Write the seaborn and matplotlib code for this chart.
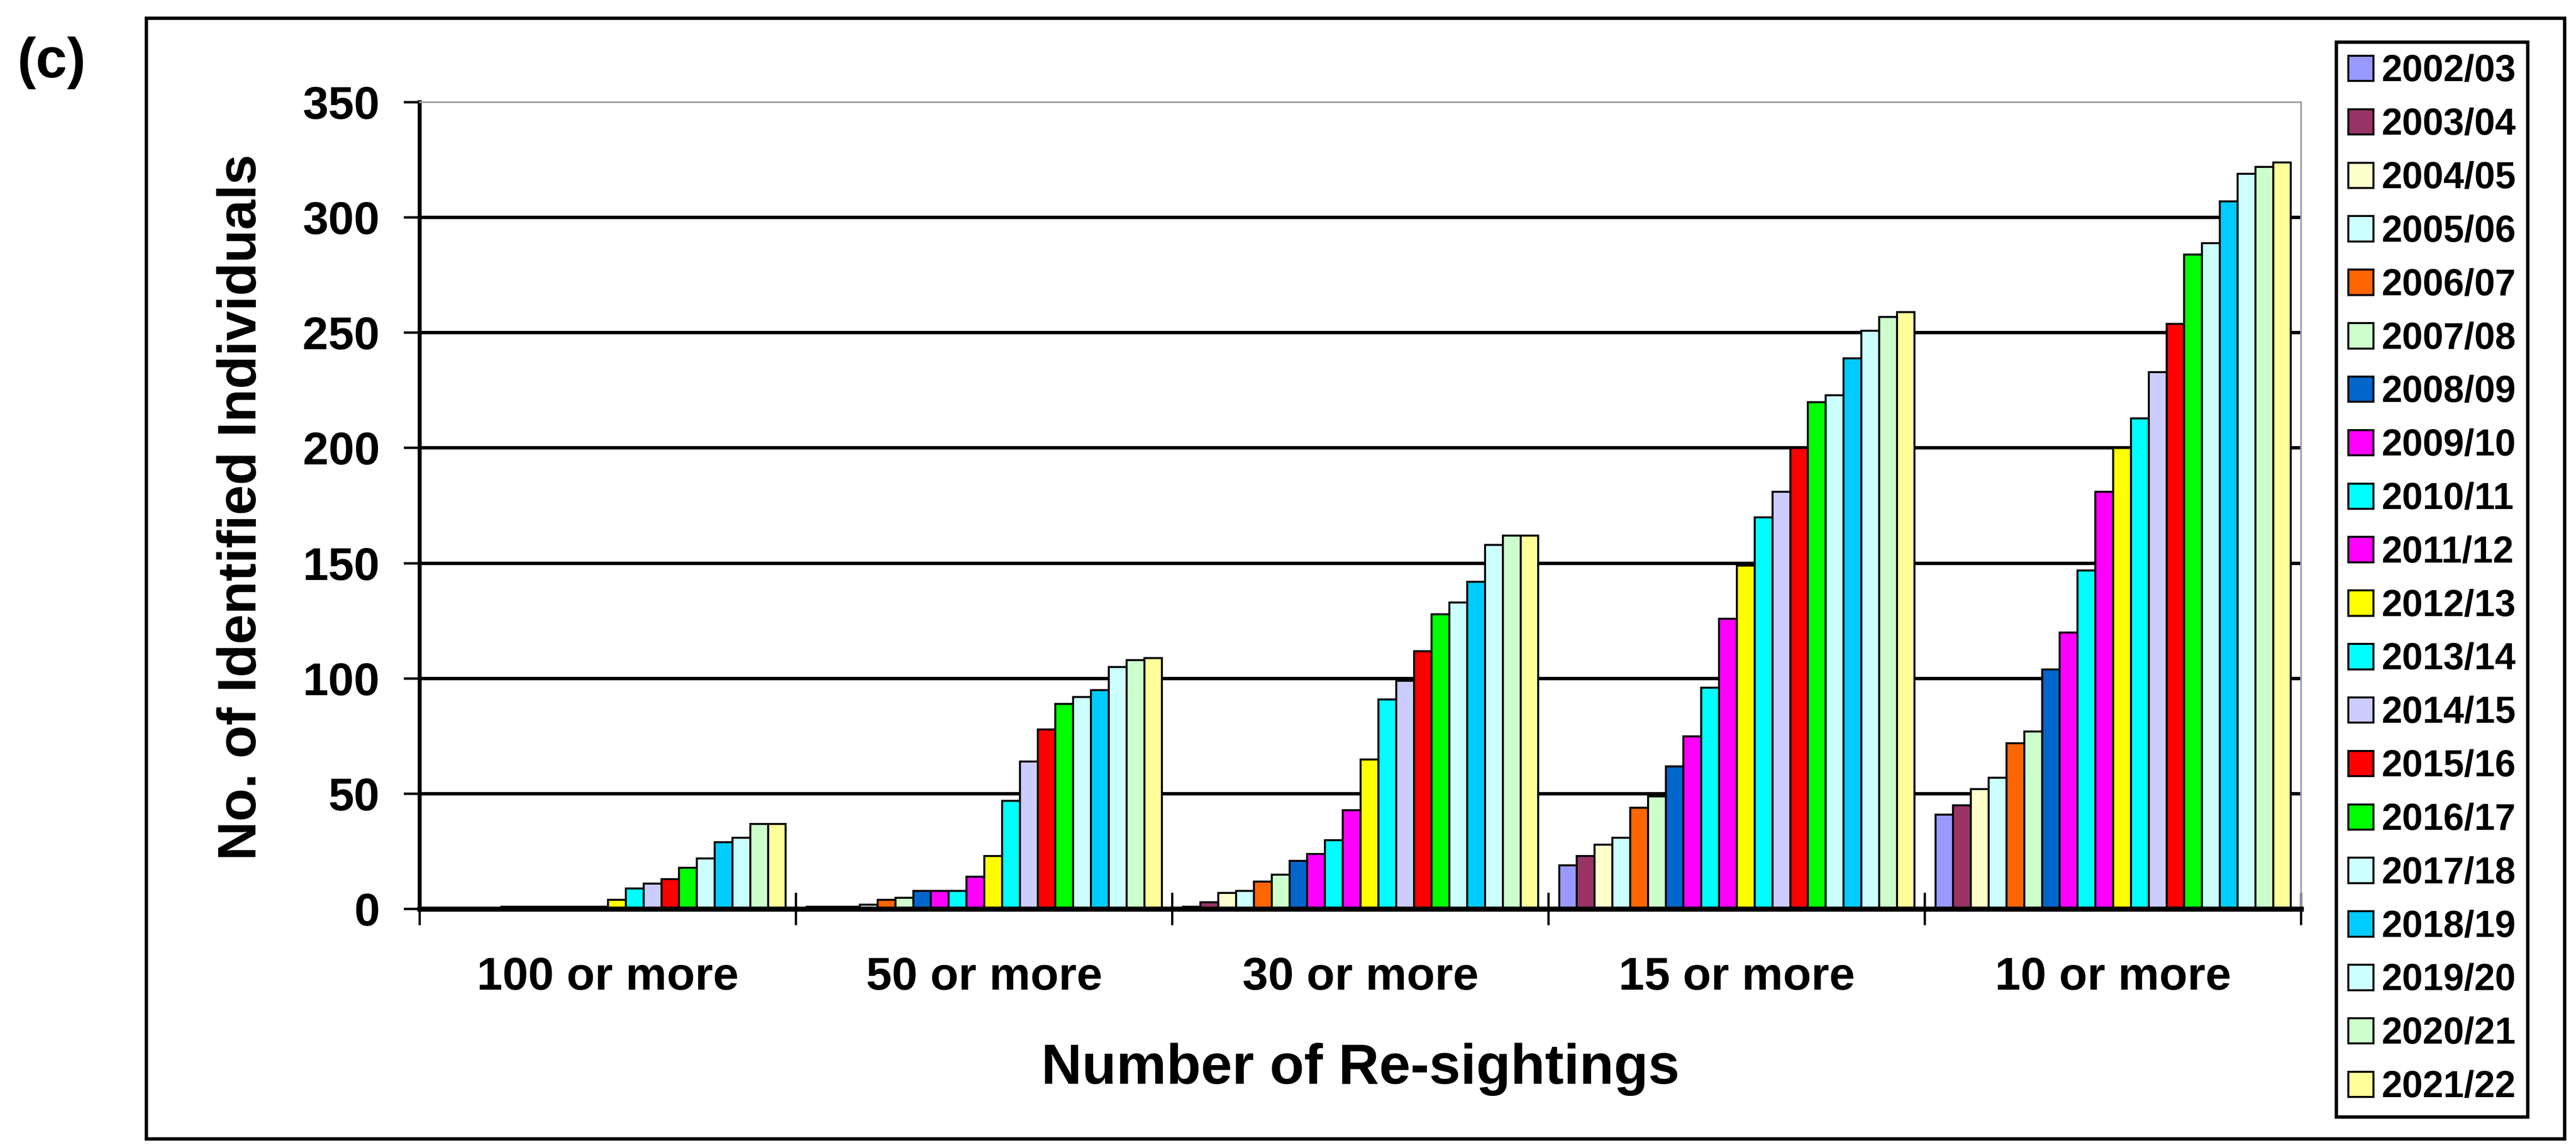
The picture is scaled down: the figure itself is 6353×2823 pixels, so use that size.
import numpy as np
import pandas as pd
import matplotlib
matplotlib.use("Agg")
import matplotlib.pyplot as plt
import seaborn as sns
from matplotlib.patches import Rectangle

# ---------------- data ----------------
categories = ["100 or more", "50 or more", "30 or more", "15 or more", "10 or more"]
seasons = ["2002/03", "2003/04", "2004/05", "2005/06", "2006/07", "2007/08",
           "2008/09", "2009/10", "2010/11", "2011/12", "2012/13", "2013/14",
           "2014/15", "2015/16", "2016/17", "2017/18", "2018/19", "2019/20",
           "2020/21", "2021/22"]
colors = ["#9999FF", "#993366", "#FFFFCC", "#CCFFFF", "#FF6600", "#CCFFCC",
          "#0066CC", "#FF00FF", "#00FFFF", "#FF00FF", "#FFFF00", "#00FFFF",
          "#CCCCFF", "#FF0000", "#00FF00", "#CCFFFF", "#00CCFF", "#CCFFFF",
          "#CCFFCC", "#FFFF99"]

v_100 = [0, 0, 0, 0, 1, 1, 1, 1, 1, 1, 4, 9, 11, 13, 18, 22, 29, 31, 37, 37]
v_50 = [1, 1, 1, 2, 4, 5, 8, 8, 8, 14, 23, 47, 64, 78, 89, 92, 95, 105, 108, 109]
v_30 = [1, 3, 7, 8, 12, 15, 21, 24, 30, 43, 65, 91, 99, 112, 128, 133, 142, 158, 162, 162]
v_15 = [19, 23, 28, 31, 44, 49, 62, 75, 96, 126, 149, 170, 181, 200, 220, 223, 239, 251, 257, 259]
v_10 = [41, 45, 52, 57, 72, 77, 104, 120, 147, 181, 200, 213, 233, 254, 284, 289, 307, 319, 322, 324]

y_ticks = [0, 50, 100, 150, 200, 250, 300, 350]

df = pd.DataFrame({
    "Number of Re-sightings": np.repeat(categories, len(seasons)),
    "Season": np.tile(seasons, len(categories)),
    "Count": np.concatenate([v_100, v_50, v_30, v_15, v_10]),
})

# ---------------- style ----------------
sns.set_theme(style="white")
plt.rcParams["font.family"] = ["Liberation Sans", "DejaVu Sans"]
plt.rcParams["font.weight"] = "bold"
plt.rcParams["axes.labelweight"] = "bold"
plt.rcParams["text.color"] = "black"

W, H = 6353, 2823
fig = plt.figure(figsize=(W / 100, H / 100), dpi=100)
fig.patch.set_facecolor("white")

ax_l, ax_r, ax_t, ax_b = 1035, 5675, 252, 2241
ax = fig.add_axes([ax_l / W, 1 - ax_b / H, (ax_r - ax_l) / W, (ax_b - ax_t) / H])

sns.barplot(data=df, x="Number of Re-sightings", y="Count", hue="Season",
            order=categories, hue_order=seasons, palette=colors,
            saturation=1, width=0.945, gap=0, edgecolor="black",
            linewidth=3.5, errorbar=None, ax=ax)

ax.set_xlim(-0.5, len(categories) - 0.5)
ax.set_ylim(0, 350)
ax.set_yticks(y_ticks)
ax.set_yticklabels([str(t) for t in y_ticks])

ax.yaxis.grid(True, color="black", linewidth=6)
ax.xaxis.grid(False)
ax.set_axisbelow(True)
ax.yaxis.get_gridlines()[-1].set_visible(False)
ax.yaxis.get_gridlines()[0].set_visible(False)

ax.set_xticks(np.arange(-0.5, len(categories), 1.0), minor=True)
ax.tick_params(axis="x", which="major", length=0, pad=84, labelsize=82,
               labelcolor="black", bottom=False)
ax.tick_params(axis="x", which="minor", length=58, width=4, direction="inout",
               color="black", bottom=True)
ax.tick_params(axis="y", which="major", length=28, width=4.3, direction="out",
               pad=43, labelsize=82, labelcolor="black", color="black", left=True)
for lab in ax.get_xticklabels() + ax.get_yticklabels():
    lab.set_fontweight("bold")

for side in ["top", "right"]:
    ax.spines[side].set_color("#A0A0A0")
    ax.spines[side].set_linewidth(3)
ax.spines["left"].set_color("black")
ax.spines["left"].set_linewidth(7)
ax.spines["bottom"].set_color("black")
ax.spines["bottom"].set_linewidth(9)

ax.set_xlabel("Number of Re-sightings", fontsize=100, fontweight="bold",
              color="black", va="center")
ax.xaxis.set_label_coords(0.5, -0.199)
ax.set_ylabel("No. of Identified Individuals", fontsize=96, fontweight="bold",
              color="black", va="center")
ax.yaxis.set_label_coords((596 - ax_l) / (ax_r - ax_l), 0.498)

handles, labels = ax.get_legend_handles_labels()
leg = ax.legend(handles, labels, loc="upper left",
                bbox_to_anchor=(5762 / W, 1 - 104 / H),
                bbox_transform=fig.transFigure, borderaxespad=0,
                prop={"size": 66, "weight": "bold"}, frameon=True,
                fancybox=False, edgecolor="black", framealpha=1,
                handlelength=0.67, handleheight=0.67, handletextpad=0.23,
                labelspacing=0.50, borderpad=0.32)
leg.get_frame().set_linewidth(6)
for h in leg.legend_handles:
    h.set_edgecolor("black")
    h.set_linewidth(3.5)

fig.text(42 / W, 1 - 90 / H, "(c)", fontsize=100, fontweight="bold",
         ha="left", va="top", color="black")

fig.add_artist(Rectangle((361 / W, 1 - 2808 / H), (6325 - 361) / W,
                         (2808 - 45) / H, transform=fig.transFigure,
                         fill=False, edgecolor="black", linewidth=6))

fig.savefig("out.png", dpi=100, facecolor="white")
